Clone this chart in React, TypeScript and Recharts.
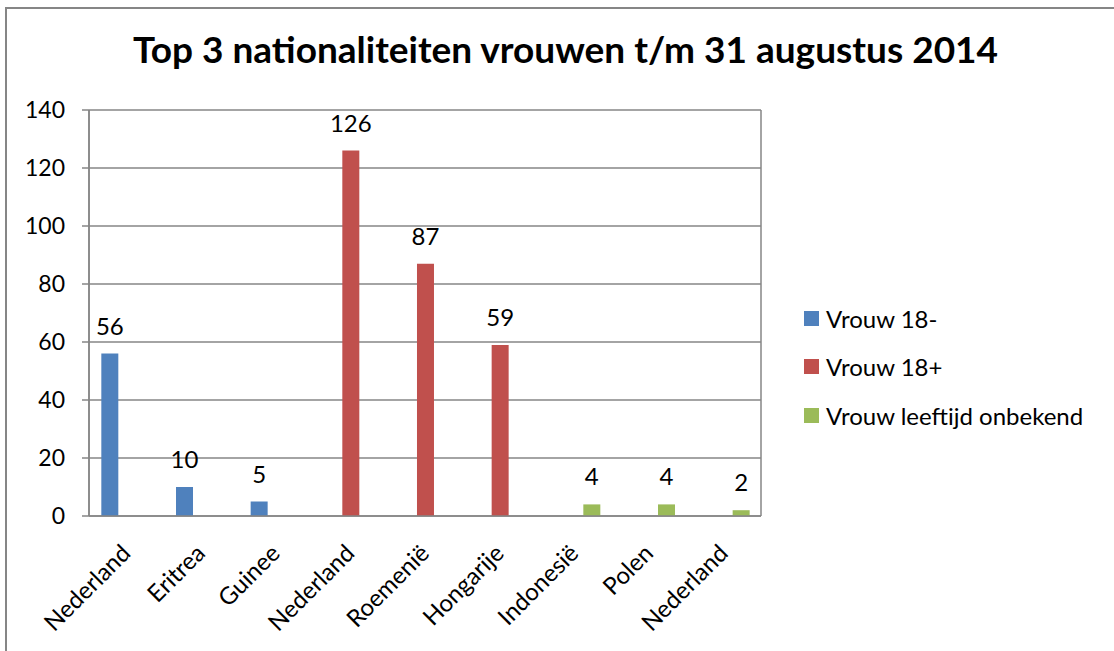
import { BarChart, Bar, XAxis, YAxis, CartesianGrid, Legend, LabelList } from 'recharts'

const categories = ['Nederland', 'Eritrea', 'Guinee', 'Nederland', 'Roemenië', 'Hongarije', 'Indonesië', 'Polen', 'Nederland']
const vrouwMin = [56, 10, 5, null, null, null, null, null, null]
const vrouwPlus = [null, null, null, 126, 87, 59, null, null, null]
const vrouwOnbekend = [null, null, null, null, null, null, 4, 4, 2]
const yTicks = [0, 20, 40, 60, 80, 100, 120, 140]
const slotEdges = [0, 1, 2, 3, 4, 5, 6, 7, 8, 9]

const series = [
  { key: 'min', name: 'Vrouw 18-', color: '#4F81BD' },
  { key: 'plus', name: 'Vrouw 18+', color: '#C0504D' },
  { key: 'onbekend', name: 'Vrouw leeftijd onbekend', color: '#9BBB59' },
]

const FONT = 'Lato, "Open Sans", sans-serif'
const GRID = '#868686'

const data = categories.map((name, i) => ({
  name,
  pos: i + 0.5,
  min: vrouwMin[i],
  plus: vrouwPlus[i],
  onbekend: vrouwOnbekend[i],
}))

const CategoryTick = (props: any) => {
  const { x, y, payload } = props
  const tx = x - 7
  const ty = y + 17
  return (
    <text
      x={tx}
      y={ty}
      dy="0.75em"
      textAnchor="end"
      fontSize={24}
      fontFamily={FONT}
      fill="#000"
      transform={`rotate(-45, ${tx}, ${ty})`}
    >
      {payload.value}
    </text>
  )
}

// own legend so the order stays as in the series list
const renderLegend = () => (
  <div style={{ fontFamily: FONT, fontSize: 24, color: '#000' }}>
    {series.map((s) => (
      <div key={s.key} style={{ display: 'flex', alignItems: 'center', height: 48.5 }}>
        <span style={{ width: 15, height: 15, background: s.color, marginRight: 7, display: 'inline-block' }} />
        <span>{s.name}</span>
      </div>
    ))}
  </div>
)

const labelFmt = (v: any) => (v == null ? '' : v)

export default function App() {
  return (
    <div style={{ position: 'absolute', left: 0, top: 0, width: 1114, height: 651, overflow: 'hidden', background: '#fff' }}>
      <div
        style={{
          position: 'absolute',
          left: 5,
          top: 7,
          width: 1200,
          height: 800,
          borderLeft: `2px solid ${GRID}`,
          borderTop: `2px solid ${GRID}`,
        }}
      />
      <div
        style={{
          position: 'absolute',
          left: 0,
          top: 26,
          width: 1131,
          textAlign: 'center',
          fontFamily: FONT,
          fontWeight: 700,
          fontSize: 37,
          color: '#000',
        }}
      >
        Top 3 nationaliteiten vrouwen t/m 31 augustus 2014
      </div>
      <div style={{ position: 'absolute', left: 0, top: 0 }}>
        <BarChart
          width={1114}
          height={651}
          data={data}
          margin={{ top: 110, right: 353, left: 29, bottom: 0 }}
          barCategoryGap="16.5%"
          barGap={0}
        >
          <CartesianGrid xAxisId="a" yAxisId="y" stroke={GRID} strokeWidth={1.5} />
          <XAxis
            xAxisId="a"
            dataKey="pos"
            type="number"
            domain={[0, 9]}
            ticks={slotEdges}
            tick={false}
            tickSize={7}
            height={7}
            axisLine={{ stroke: GRID, strokeWidth: 1.5 }}
            tickLine={{ stroke: GRID, strokeWidth: 1.5 }}
          />
          <XAxis
            xAxisId="b"
            dataKey="name"
            interval={0}
            height={128}
            axisLine={false}
            tickLine={false}
            tickSize={0}
            tick={<CategoryTick />}
          />
          <YAxis
            yAxisId="y"
            domain={[0, 140]}
            ticks={yTicks}
            width={60}
            tickSize={7}
            tickMargin={17}
            axisLine={{ stroke: GRID, strokeWidth: 1.5 }}
            tickLine={{ stroke: GRID, strokeWidth: 1.5 }}
            tick={{ fontSize: 23, fontFamily: FONT, fill: '#000' }}
          />
          <Legend
            layout="vertical"
            align="center"
            verticalAlign="middle"
            content={renderLegend}
            wrapperStyle={{ left: 804, top: 294, width: 310 }}
          />
          {series.map((s) => (
            <Bar
              key={s.key}
              xAxisId="b"
              yAxisId="y"
              dataKey={s.key}
              name={s.name}
              fill={s.color}
              isAnimationActive={false}
            >
              <LabelList dataKey={s.key} position="top" offset={19} formatter={labelFmt} fontSize={24} fontFamily={FONT} fill="#000" />
            </Bar>
          ))}
        </BarChart>
      </div>
    </div>
  )
}
